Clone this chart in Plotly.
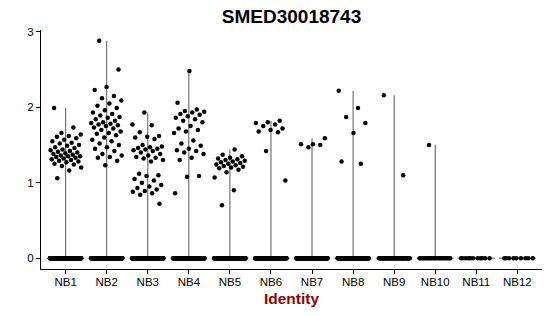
import plotly.graph_objects as go

categories = ["NB1", "NB2", "NB3", "NB4", "NB5", "NB6", "NB7", "NB8", "NB9", "NB10", "NB11", "NB12"]

# expression values of the expressing cells
nb1_values = [1.99, 1.73, 1.66, 1.64, 1.62, 1.61, 1.59, 1.57, 1.55, 1.53, 1.52, 1.50, 1.49, 1.47,
              1.46, 1.44, 1.43, 1.42, 1.41, 1.40, 1.39, 1.38, 1.37, 1.36, 1.35, 1.35, 1.34, 1.33,
              1.32, 1.31, 1.30, 1.29, 1.28, 1.27, 1.25, 1.24, 1.22, 1.20, 1.16, 1.06]
nb2_values = [2.88, 2.50, 2.27, 2.23, 2.15, 2.12, 2.09, 2.05, 2.02, 1.99, 1.96, 1.93, 1.91, 1.89,
              1.87, 1.86, 1.84, 1.82, 1.80, 1.79, 1.78, 1.77, 1.76, 1.75, 1.73, 1.72, 1.70, 1.68,
              1.66, 1.65, 1.63, 1.60, 1.57, 1.55, 1.52, 1.50, 1.47, 1.45, 1.42, 1.38, 1.36, 1.34,
              1.33, 1.29, 1.23]
nb3_values = [1.93, 1.77, 1.76, 1.67, 1.62, 1.61, 1.60, 1.58, 1.50, 1.48, 1.47, 1.46, 1.45, 1.44,
              1.43, 1.42, 1.40, 1.38, 1.36, 1.34, 1.33, 1.32, 1.30, 1.28, 1.12, 1.10, 1.09, 1.05,
              1.03, 1.00, 0.97, 0.95, 0.93, 0.91, 0.89, 0.88, 0.86, 0.84, 0.72]
nb4_values = [2.48, 2.06, 1.97, 1.95, 1.94, 1.93, 1.91, 1.90, 1.88, 1.86, 1.84, 1.82, 1.80, 1.75,
              1.72, 1.70, 1.68, 1.66, 1.56, 1.52, 1.49, 1.45, 1.43, 1.42, 1.40, 1.38, 1.33, 1.30,
              1.09, 1.08, 0.86]
nb5_values = [1.44, 1.37, 1.35, 1.33, 1.32, 1.31, 1.30, 1.29, 1.28, 1.27, 1.26, 1.25, 1.24, 1.23,
              1.22, 1.21, 1.20, 1.19, 1.17, 1.14, 1.07, 0.90, 0.70]
nb6_values = [1.82, 1.80, 1.79, 1.77, 1.75, 1.72, 1.70, 1.68, 1.67, 1.42, 1.03]
nb7_values = [1.59, 1.51, 1.51, 1.50, 1.47]
nb8_values = [2.22, 1.99, 1.87, 1.79, 1.66, 1.28, 1.25]
nb9_values = [2.16, 1.10]
nb10_values = [1.50]
nb11_values = []
nb12_values = []

# number of cells with zero expression in each group (estimated)
zero_counts = [300, 300, 300, 300, 260, 260, 220, 160, 60, 22, 11, 9]

group_values = [nb1_values, nb2_values, nb3_values, nb4_values, nb5_values, nb6_values,
                nb7_values, nb8_values, nb9_values, nb10_values, nb11_values, nb12_values]

FONT = "Liberation Sans, Arial, sans-serif"
LINE_COLOR = "#5a5a5a"
HALF_WIDTH = 0.45      # half width of the flat violin base
JITTER = 0.38          # half width of the point jitter
GOLDEN = 0.6180339887


def jitter_offsets(n, phase):
    """Deterministic, evenly spread horizontal offsets (golden-ratio sequence)."""
    return [((k * GOLDEN + phase) % 1.0 - 0.5) * 2 * JITTER for k in range(n)]


fig = go.Figure()

# thin "violins": vertical line up to the group maximum plus flat base at zero
for i, vals in enumerate(group_values):
    top = max(vals) if vals else 0
    fig.add_trace(go.Scatter(
        x=[i - HALF_WIDTH, i + HALF_WIDTH, None, i, i],
        y=[0, 0, None, 0, top],
        mode="lines", line=dict(color=LINE_COLOR, width=1),
        hoverinfo="skip", showlegend=False))

# jittered points
for i, (cat, vals, nz) in enumerate(zip(categories, group_values, zero_counts)):
    ys = list(vals) + [0.0] * nz
    offs = jitter_offsets(len(vals), 0.13 * (i + 1)) + jitter_offsets(nz, 0.37 + 0.07 * i)
    fig.add_trace(go.Scatter(
        x=[i + o for o in offs], y=ys, name=cat,
        mode="markers", marker=dict(color="black", size=4.5),
        showlegend=False))

axis_common = dict(
    showline=True, linecolor="black", linewidth=1,
    ticks="outside", ticklen=4, tickcolor="black", tickwidth=1,
    showgrid=False, zeroline=False,
    tickfont=dict(family=FONT, size=11.5, color="black"),
)

fig.update_layout(
    width=550, height=316,
    margin=dict(l=41, r=8, t=30, b=47),
    paper_bgcolor="white", plot_bgcolor="white",
    showlegend=False,
    title=dict(text="<b>SMED30018743</b>", x=0.5, xref="paper", xanchor="center",
               y=1 - 16 / 316, yref="container", yanchor="middle",
               font=dict(family=FONT, size=19, color="black")),
    xaxis=dict(range=[-0.6, 11.6], tickmode="array", tickvals=list(range(len(categories))),
               ticktext=categories, ticklabelstandoff=-2,
               title=dict(text="<b>Identity</b>", standoff=6,
                          font=dict(family=FONT, size=15.5, color="#8B0000")),
               **axis_common),
    yaxis=dict(range=[-0.144, 3.024], tickmode="array", tickvals=[0, 1, 2, 3],
               ticktext=["0", "1", "2", "3"], **axis_common),
)

fig.write_html("out.html")
